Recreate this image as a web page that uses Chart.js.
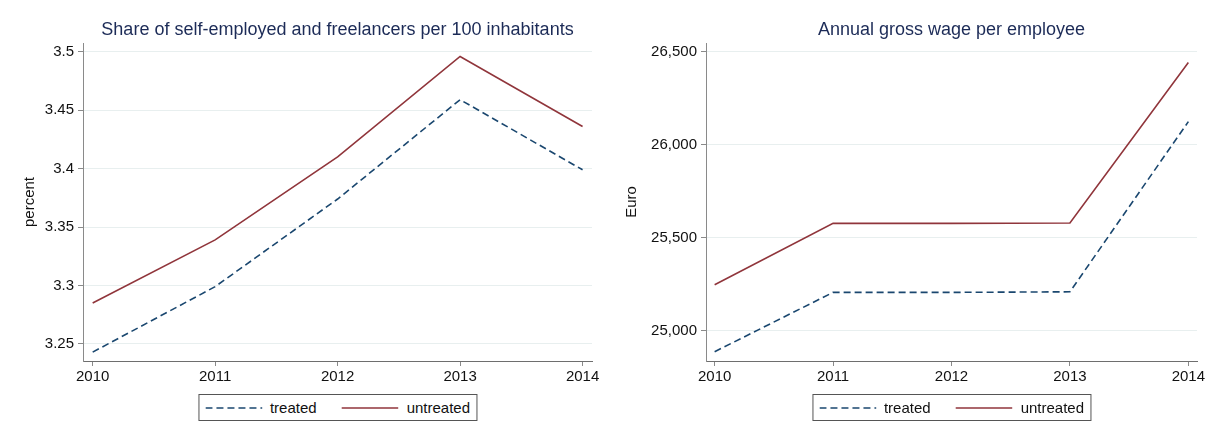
<!DOCTYPE html>
<html>
<head>
<meta charset="utf-8">
<script src="https://cdn.jsdelivr.net/npm/chart.js@4/dist/chart.umd.min.js"></script>
<style>
  html, body { margin: 0; padding: 0; background: #fff; }
  body { width: 1208px; height: 438px; position: relative; overflow: hidden; font-family: "Liberation Sans", Arial, sans-serif; }
  .panel { position: absolute; top: 0; width: 604px; height: 438px; }
  .legend { position: absolute; top: 394px; height: 27px; border: 1px solid #555; display: flex; align-items: center; padding: 0 6px; box-sizing: border-box; white-space: nowrap; transform: translateX(-50%); font-size: 15px; color: #111; background: #fff; }
  .legend svg { display: block; }
  .legend span { margin-left: 8px; }
  .legend .gap { width: 25px; }
</style>
</head>
<body>
<div class="panel" style="left:0"><canvas id="c1" width="604" height="438"></canvas></div>
<div class="panel" style="left:604px"><canvas id="c2" width="604" height="438"></canvas></div>
<div class="legend" id="lg1"></div>
<div class="legend" id="lg2"></div>
<script>
// ---- data ----
const years = [2010, 2011, 2012, 2013, 2014];
const shareTreated   = [3.243, 3.299, 3.374, 3.459, 3.399];
const shareUntreated = [3.285, 3.339, 3.410, 3.496, 3.436];
const wageTreated    = [24888, 25207, 25207, 25210, 26125];
const wageUntreated  = [25248, 25578, 25578, 25580, 26443];
const shareTicks = [3.25, 3.3, 3.35, 3.4, 3.45, 3.5];
const wageTicks  = [25000, 25500, 26000, 26500];
const seriesNames = ['treated', 'untreated'];
const titles = ['Share of self-employed and freelancers per 100 inhabitants', 'Annual gross wage per employee'];
const yTitles = ['percent', 'Euro'];

const NAVY = '#1a476f', MAROON = '#90353b';
const DASH = [7, 4];
const FONT = '"Liberation Sans", Arial, sans-serif';

function pts(vals) { return years.map((y, i) => ({ x: y, y: vals[i] })); }

const titlePlugin = {
  id: 'ptitle',
  afterDraw(chart, args, opts) {
    const ctx = chart.ctx, a = chart.chartArea;
    ctx.save();
    ctx.font = '18px ' + FONT;
    ctx.fillStyle = '#1c2b57';
    ctx.textAlign = 'center';
    ctx.textBaseline = 'middle';
    ctx.fillText(opts.text, (a.left + a.right) / 2, 30);
    ctx.restore();
  }
};

function makeChart(id, tVals, uVals, yTicks, cfg) {
  return new Chart(document.getElementById(id), {
    type: 'line',
    data: {
      datasets: [
        { label: seriesNames[0], data: pts(tVals), borderColor: NAVY, borderWidth: 1.6, borderDash: DASH, pointRadius: 0, tension: 0, fill: false },
        { label: seriesNames[1], data: pts(uVals), borderColor: MAROON, borderWidth: 1.6, pointRadius: 0, tension: 0, fill: false }
      ]
    },
    options: {
      responsive: false,
      animation: false,
      events: [],
      layout: { padding: { top: 43, right: cfg.padRight, left: 0, bottom: 0 } },
      plugins: { legend: { display: false }, tooltip: { enabled: false }, ptitle: { text: cfg.title } },
      scales: {
        x: {
          type: 'linear', min: cfg.xmin, max: cfg.xmax,
          afterBuildTicks: s => { s.ticks = years.map(v => ({ value: v })); },
          afterFit: s => { s.height = 438 - 361; },
          grid: { drawOnChartArea: false, drawTicks: true, tickLength: 5, tickColor: '#8a8a8a' },
          border: { display: true, color: '#6e6e6e', width: 1 },
          ticks: { color: '#111', font: { size: 15, family: FONT }, padding: 2, maxRotation: 0, callback: v => String(v) }
        },
        y: {
          type: 'linear', min: cfg.ymin, max: cfg.ymax,
          afterBuildTicks: s => { s.ticks = yTicks.map(v => ({ value: v })); },
          afterFit: s => { s.width = cfg.yWidth; },
          grid: { drawOnChartArea: true, color: '#e8efef', lineWidth: 1, drawTicks: true, tickLength: 5, tickColor: '#8a8a8a' },
          border: { display: true, color: '#8a8a8a', width: 1 },
          ticks: { color: '#111', font: { size: 15, family: FONT }, padding: 4, callback: cfg.fmt },
          title: { display: true, text: cfg.yTitle, color: '#111', font: { size: 15, family: FONT }, padding: { top: cfg.titlePad, bottom: 0 } }
        }
      }
    },
    plugins: [titlePlugin]
  });
}

const c1 = makeChart('c1', shareTreated, shareUntreated, shareTicks, {
  title: titles[0], yTitle: yTitles[0], xmin: 2009.921, xmax: 2014.077, ymin: 3.2354, ymax: 3.5075,
  yWidth: 83, padRight: 12, titlePad: 21, fmt: v => String(v)
});
const c2 = makeChart('c2', wageTreated, wageUntreated, wageTicks, {
  title: titles[1], yTitle: yTitles[1], xmin: 2009.927, xmax: 2014.073, ymin: 24838, ymax: 26548,
  yWidth: 102, padRight: 11, titlePad: 19, fmt: v => v.toLocaleString('en-US')
});

function buildLegend(el, chart, offset) {
  const a = chart.chartArea;
  el.style.left = (offset + (a.left + a.right) / 2) + 'px';
  chart.data.datasets.forEach((ds, i) => {
    if (i > 0) { const g = document.createElement('div'); g.className = 'gap'; el.appendChild(g); }
    const ns = 'http://www.w3.org/2000/svg';
    const svg = document.createElementNS(ns, 'svg');
    svg.setAttribute('width', '57'); svg.setAttribute('height', '6');
    const ln = document.createElementNS(ns, 'line');
    ln.setAttribute('x1', '0'); ln.setAttribute('x2', '57'); ln.setAttribute('y1', '3'); ln.setAttribute('y2', '3');
    ln.setAttribute('stroke', ds.borderColor); ln.setAttribute('stroke-width', '1.6');
    if (ds.borderDash) ln.setAttribute('stroke-dasharray', ds.borderDash.join(' '));
    svg.appendChild(ln);
    el.appendChild(svg);
    const sp = document.createElement('span'); sp.textContent = ds.label; el.appendChild(sp);
  });
}
buildLegend(document.getElementById('lg1'), c1, 0);
buildLegend(document.getElementById('lg2'), c2, 604);
</script>
</body>
</html>
